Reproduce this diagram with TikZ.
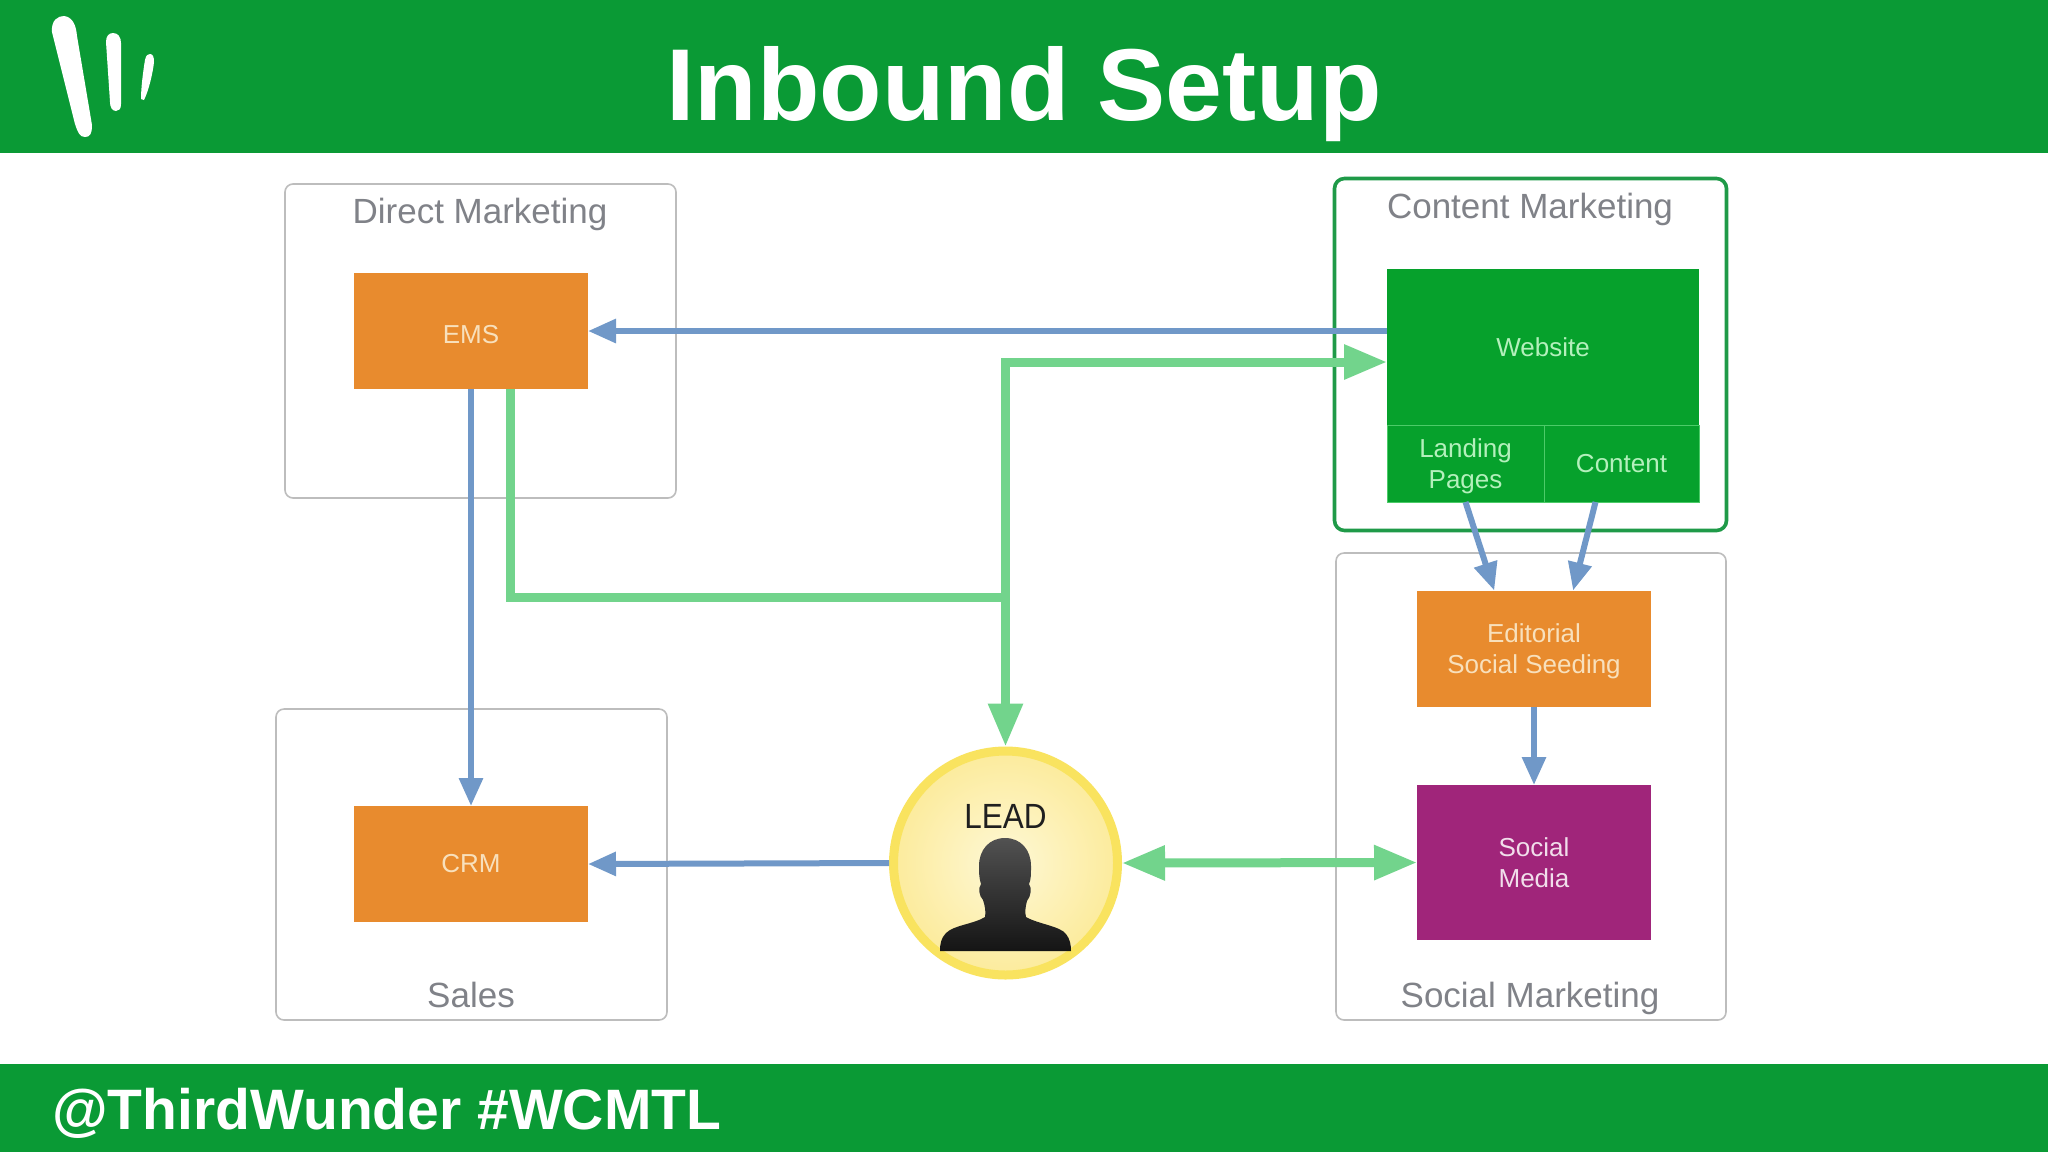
\documentclass[tikz,border=0pt]{standalone}
\usepackage{fontspec}
\setmainfont{Liberation Sans}
\usetikzlibrary{arrows.meta,calc,shapes.geometric}
\definecolor{bar}{HTML}{0A9A35}
\definecolor{webgreen}{HTML}{06A12C}
\definecolor{cellline}{HTML}{4CCB68}
\definecolor{orangefill}{HTML}{E88B2E}
\definecolor{purplefill}{HTML}{A0257A}
\definecolor{arrowgreen}{HTML}{72D48C}
\definecolor{arrowblue}{HTML}{7098C8}
\definecolor{groupgrey}{HTML}{BDBDBD}
\definecolor{grouptext}{HTML}{808288}
\definecolor{contentline}{HTML}{1F9A48}
\definecolor{leadrim}{HTML}{F9E35F}
\definecolor{leadin}{HTML}{FEF8D6}
\definecolor{leadout}{HTML}{FCEB9C}
\definecolor{websitetext}{HTML}{B4F0BC}
\definecolor{orangetext}{HTML}{F8E0BC}
\newcommand{\lowertext}{\rule{0pt}{12.5pt}}
\tikzset{
  x=0.5pt,y=-0.5pt,
  groupbox/.style={draw=groupgrey,line width=0.8pt,rounded corners=4pt,fill=white,outer sep=0pt,inner sep=0pt},
  contentbox/.style={draw=contentline,line width=1.8pt,rounded corners=5pt,fill=white,outer sep=0pt,inner sep=0pt},
  grouplabel/.style={text=grouptext,font=\fontsize{17.5}{20}\selectfont,inner sep=0pt},
  solid box/.style={outer sep=0pt,inner sep=0pt,align=center,font=\fontsize{13}{15.5}\selectfont},
  orangebox/.style={solid box,fill=orangefill,text=orangetext,minimum width=117pt,minimum height=58pt},
  webbox/.style={solid box,fill=webgreen,text=websitetext},
  cellbox/.style={webbox,draw=cellline,line width=0.5pt},
  purplebox/.style={solid box,fill=purplefill,text=purplefill!15!white,minimum width=117pt,minimum height=77.5pt},
  blueline/.style={draw=arrowblue,line width=3pt,-{Triangle[length=14pt,width=11.5pt]}},
  greenline/.style={draw=arrowgreen,line width=4.5pt},
  greenhead/.style={greenline,-{Triangle[length=21.5pt,width=16.5pt]}},
  greenboth/.style={greenline,{Triangle[length=21.5pt,width=16.5pt]}-{Triangle[length=21.5pt,width=16.5pt]}}
}
\begin{document}
\begin{tikzpicture}
\useasboundingbox (0,0) rectangle (2048,1152);
\fill[white] (0,0) rectangle (2048,1152);
\fill[bar] (0,0) rectangle (2048,153);
\fill[bar] (0,1064) rectangle (2048,1152);
% logo
\fill[white] (52,32) .. controls (51,20) and (58,16) .. (64,16) .. controls (72,17) and (76,24) .. (77,36) -- (92,125) .. controls (92,134) and (90,137) .. (85,137) .. controls (80,137) and (78,133) .. (75,124) -- cycle;
\fill[white] (106,42) .. controls (106,36) and (109,33) .. (113,33) .. controls (118,33) and (121,37) .. (121,43) -- (121,104) .. controls (121,109) and (119,111) .. (116,111) .. controls (112,111) and (110,107) .. (110,102) -- cycle;
\fill[white] (145,60) .. controls (146,55) and (148,54) .. (150,54) .. controls (153,54) and (154,57) .. (154,62) .. controls (153,72) and (149,90) .. (144,100) -- (141,99) .. controls (141,88) and (143,72) .. (145,60) -- cycle;
\node[text=white,font=\bfseries\fontsize{51.1}{55}\selectfont,inner sep=0pt,anchor=base] (title) at (1024,120) {Inbound Setup};
\node[text=white,font=\bfseries\fontsize{28.5}{32}\selectfont,inner sep=0pt,anchor=base west] (tag) at (52,1129) {@ThirdWunder \#WCMTL};
% groups
\node[groupbox,minimum width=195.5pt,minimum height=157pt] (direct) at (480.5,341) {};
\node[groupbox,minimum width=195.5pt,minimum height=155.5pt] (salesbox) at (471.5,864.5) {};
\node[groupbox,minimum width=195pt,minimum height=233.5pt] (socialbox) at (1531,786.5) {};
\node[contentbox,minimum width=196pt,minimum height=176pt] (contentgroup) at (1530.5,354.5) {};
\node[grouplabel] (directlabel) at (480,214) {Direct Marketing};
\node[grouplabel] (contentlabel) at (1530,209) {Content Marketing};
\node[grouplabel] (saleslabel) at (471,995) {Sales};
\node[grouplabel] (sociallabel) at (1530,998) {Social Marketing};
% nodes
\node[orangebox] (ems) at (471,331) {\lowertext EMS};
\node[orangebox] (crm) at (471,864) {CRM};
\node[webbox,minimum width=156pt,minimum height=78pt] (website) at (1543,347) {Website};
\node[cellbox,minimum width=78.5pt,minimum height=38.5pt] (landing) at (1465.5,463.5) {\lowertext Landing\\Pages};
\node[cellbox,minimum width=77.5pt,minimum height=38.5pt] (contentcell) at (1621.5,463.5) {Content};
\node[orangebox] (editorial) at (1534,648.5) {\lowertext Editorial\\Social Seeding};
\node[purplebox] (socialmedia) at (1534,862.5) {Social\\Media};
\node[circle,draw=leadrim,line width=4.5pt,inner color=leadin,outer color=leadout,minimum size=112pt,inner sep=0pt] (lead) at (1005.5,863) {};
\shade[top color=black!68,bottom color=black!92] (1005,838)
  .. controls (1021,838) and (1031,850) .. (1031,866)
  .. controls (1031,874) and (1031,880) .. (1029,884)
  .. controls (1032,888) and (1031,896) .. (1027,901)
  .. controls (1025,908) and (1025,913) .. (1026,917)
  .. controls (1038,924) and (1060,926) .. (1066,934)
  .. controls (1070,939) and (1071,945) .. (1071,951)
  -- (940,951)
  .. controls (940,944) and (941,938) .. (946,933)
  .. controls (954,925) and (974,924) .. (985,917)
  .. controls (986,912) and (985,906) .. (983,900)
  .. controls (979,896) and (978,888) .. (981,884)
  .. controls (979,878) and (979,872) .. (979,866)
  .. controls (979,850) and (989,838) .. (1005,838) -- cycle;
\node[text=black!88,inner sep=0pt,xscale=.9,font=\fontsize{17.5}{20}\selectfont] (leadlabel) at (1005.5,816) {LEAD};
% free ends on node borders
\coordinate (webblue) at (website.west |- ems);
\coordinate (webgreen) at ($(website.west)+(0,15)$);
\coordinate (emsgreen) at ($(ems.south west)!.667!(ems.south east)$);
\coordinate (junction) at (lead.north |- 0,597);
\coordinate (editleft) at ($(editorial.north west)!.33!(editorial.north east)$);
\coordinate (editright) at ($(editorial.north west)!.667!(editorial.north east)$);
% connectors
\draw[blueline] (webblue) -- (ems.east);
\draw[blueline] (ems.south) -- (crm.north);
\draw[blueline] (lead.west) -- (crm.east);
\draw[blueline] (landing.south) -- (editleft);
\draw[blueline] (contentcell.south) ++(-26,0) -- (editright);
\draw[blueline] (editorial.south) -- (socialmedia.north);
\draw[greenline] (emsgreen) |- (junction);
\draw[greenhead] (junction) |- (webgreen);
\draw[greenhead] (junction) -- (lead.north);
\draw[greenboth] (lead.east) -- (socialmedia.west);
\end{tikzpicture}
\end{document}
